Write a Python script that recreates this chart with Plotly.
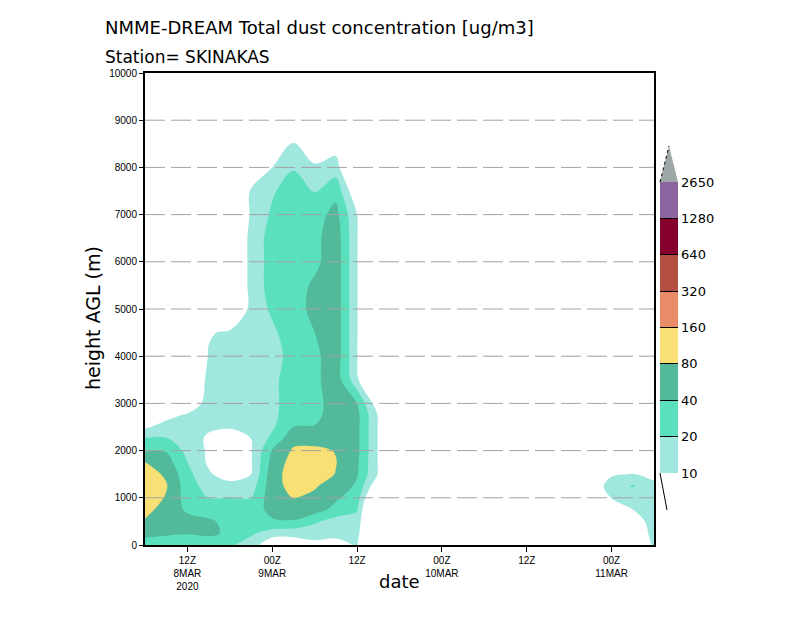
import numpy as np
import pandas as pd
import plotly.graph_objects as go

# ---------------- data ----------------
heights = [0, 250, 500, 750, 1000, 1250, 1500, 1750, 2000, 2250, 2500, 2750, 3000,
           3500, 4000, 4500, 5000, 5500, 6000, 6500, 7000, 7500, 8000, 8500, 9000, 10000]

# 3-hourly profiles, 06Z 08MAR2020 ... 06Z 11MAR2020 (ug/m3), one list per time, bottom->top
dust_profiles = [
    [28, 50, 75, 100, 130, 130, 110, 82, 38, 21, 9, 4, 0, 0, 0, 0, 0, 0, 0, 0, 0, 0, 0, 0, 0, 0],       # 06Z 8
    [26, 45, 50, 60, 75, 85, 72, 55, 38, 21, 13, 8, 3, 0, 0, 0, 0, 0, 0, 0, 0, 0, 0, 0, 0, 0],          # 09Z
    [25, 42, 50, 36, 30, 28, 25, 20, 16, 14, 13, 11, 6, 2, 0, 0, 0, 0, 0, 0, 0, 0, 0, 0, 0, 0],         # 12Z
    [24, 48, 45, 28, 20, 15, 11, 9, 9, 9, 11, 13, 13, 14, 11, 9, 0, 0, 0, 0, 0, 0, 0, 0, 0, 0],         # 15Z
    [22, 34, 32, 25, 20, 13, 7, 4, 4, 6, 11, 13, 14, 14, 13, 12, 2, 2, 2, 2, 1, 0, 0, 0, 0, 0],         # 18Z
    [15, 22, 25, 24, 20, 14, 10, 9.5, 9.5, 10, 13, 14, 14, 14, 14, 14, 14, 14, 14, 14, 12, 12, 0, 0, 0, 0],  # 21Z
    [5, 15, 35, 55, 60, 62, 60, 52, 42, 24, 18, 17, 17, 18, 16, 18, 22, 25, 25, 25, 22, 18.5, 10, 2, 0, 0],  # 00Z 9
    [6, 13, 38, 60, 82, 100, 110, 105, 88, 65, 40, 30, 28, 25, 25, 27, 30, 30, 30, 30, 30, 27, 19, 10.5, 2, 0],  # 03Z
    [8, 14, 22, 55, 70, 85, 110, 110, 90, 65, 42, 32, 30, 34, 34, 40, 48, 45, 34, 33, 30, 19, 12, 4, 0, 0],  # 06Z
    [8, 12, 15, 32, 45, 60, 78, 82, 78, 62, 60, 60, 60, 60, 60, 60, 60, 60, 60, 60, 50, 32, 14, 7, 0, 0],    # 09Z
    [10.5, 13, 16, 21, 28, 36, 42, 45, 48, 48, 48, 48, 40, 12, 10.5, 10.5, 10.5, 10.5, 10.5, 10.5, 10, 5, 2, 0, 0, 0],  # 12Z
    [0, 0, 0, 0, 2, 5, 9.5, 9.5, 9.5, 9.5, 9.5, 9.5, 6, 0, 0, 0, 0, 0, 0, 0, 0, 0, 0, 0, 0, 0],         # 15Z
    [0, 0, 0, 0, 0, 0, 0, 0, 0, 0, 0, 0, 0, 0, 0, 0, 0, 0, 0, 0, 0, 0, 0, 0, 0, 0],                     # 18Z
    [0, 0, 0, 0, 0, 0, 0, 0, 0, 0, 0, 0, 0, 0, 0, 0, 0, 0, 0, 0, 0, 0, 0, 0, 0, 0],                     # 21Z
    [0, 0, 0, 0, 0, 0, 0, 0, 0, 0, 0, 0, 0, 0, 0, 0, 0, 0, 0, 0, 0, 0, 0, 0, 0, 0],                     # 00Z 10
    [0, 0, 0, 0, 0, 0, 0, 0, 0, 0, 0, 0, 0, 0, 0, 0, 0, 0, 0, 0, 0, 0, 0, 0, 0, 0],                     # 03Z
    [0, 0, 0, 0, 0, 0, 0, 0, 0, 0, 0, 0, 0, 0, 0, 0, 0, 0, 0, 0, 0, 0, 0, 0, 0, 0],                     # 06Z
    [0, 0, 0, 0, 0, 0, 0, 0, 0, 0, 0, 0, 0, 0, 0, 0, 0, 0, 0, 0, 0, 0, 0, 0, 0, 0],                     # 09Z
    [0, 0, 0, 0, 0, 0, 0, 0, 0, 0, 0, 0, 0, 0, 0, 0, 0, 0, 0, 0, 0, 0, 0, 0, 0, 0],                     # 12Z
    [0, 0, 0, 0, 0, 0, 0, 0, 0, 0, 0, 0, 0, 0, 0, 0, 0, 0, 0, 0, 0, 0, 0, 0, 0, 0],                     # 15Z
    [0, 0, 0, 0, 0, 0, 0, 0, 0, 0, 0, 0, 0, 0, 0, 0, 0, 0, 0, 0, 0, 0, 0, 0, 0, 0],                     # 18Z
    [0, 0, 0, 0, 2, 5, 2, 0, 0, 0, 0, 0, 0, 0, 0, 0, 0, 0, 0, 0, 0, 0, 0, 0, 0, 0],                     # 21Z
    [0, 0, 0, 4, 10.5, 15, 9, 0, 0, 0, 0, 0, 0, 0, 0, 0, 0, 0, 0, 0, 0, 0, 0, 0, 0, 0],                 # 00Z 11
    [3, 5, 7, 10, 14, 21, 10.5, 3, 0, 0, 0, 0, 0, 0, 0, 0, 0, 0, 0, 0, 0, 0, 0, 0, 0, 0],               # 03Z
    [12, 13, 13, 13, 13, 12, 8, 2, 0, 0, 0, 0, 0, 0, 0, 0, 0, 0, 0, 0, 0, 0, 0, 0, 0, 0],               # 06Z
]
times = pd.date_range("2020-03-08 06:00", "2020-03-11 06:00", freq="3h")

level_labels = ["10", "20", "40", "80", "160", "320", "640", "1280", "2650"]
level_colors = ["#a0e8df", "#5ae0bd", "#52b99b", "#f9e074", "#ea8b68",
                "#b24f41", "#85002c", "#8b64a0"]
over_color = "#9fa8a8"

x_tick_vals = ["2020-03-08 12:00", "2020-03-09 00:00", "2020-03-09 12:00",
               "2020-03-10 00:00", "2020-03-10 12:00", "2020-03-11 00:00"]
x_tick_text = ["12Z<br>8MAR<br>2020", "00Z<br>9MAR", "12Z", "00Z<br>10MAR", "12Z", "00Z<br>11MAR"]
y_tick_vals = [0, 1000, 2000, 3000, 4000, 5000, 6000, 7000, 8000, 9000, 10000]
y_tick_text = ["0", "1000", "2000", "3000", "4000", "5000", "6000", "7000", "8000", "9000", "10000"]

# ---------------- figure ----------------
conc = np.array(dust_profiles, dtype=float).T           # heights x times
lev = np.log2(np.maximum(conc, 1.0) / 10.0)            # 0 -> 10, 1 -> 20, ...

# contour colour scale: background (white) + 8 bands + above-top
fill_cols = ["#ffffff"] + level_colors + [over_color]
n = len(fill_cols)
cs_contour = []
for k, c in enumerate(fill_cols):
    lo = max(0.0, (k - 0.5) / (n - 1))
    hi = min(1.0, (k + 0.5) / (n - 1))
    cs_contour += [[lo, c], [hi, c]]

cs_bar = []
for k, c in enumerate(level_colors):
    cs_bar += [[k / len(level_colors), c], [(k + 1) / len(level_colors), c]]

fig = go.Figure()
fig.add_trace(go.Contour(
    x=times, y=heights, z=lev,
    autocontour=False,
    contours=dict(start=0, end=8, size=1, coloring="fill", showlines=False),
    colorscale=cs_contour, showscale=False,
    line=dict(width=0, smoothing=1.0),
    hoverinfo="skip",
))

# colour key
fig.add_trace(go.Scatter(
    x=[pd.Timestamp("2020-03-01")], y=[-5000], mode="markers",
    marker=dict(color=[0], cmin=0, cmax=8, colorscale=cs_bar, showscale=True,
                colorbar=dict(
                    x=(660 - 145) / 509, xanchor="left", xpad=0,
                    y=(545 - 327.5) / 472, yanchor="middle", ypad=0,
                    thickness=18, thicknessmode="pixels",
                    len=291, lenmode="pixels",
                    outlinewidth=0,
                    tickmode="array", tickvals=list(range(9)), ticktext=level_labels,
                    ticks="inside", ticklen=18, tickwidth=1, tickcolor="black",
                    tickfont=dict(family="DejaVu Sans", size=13, color="black"),
                )),
    showlegend=False, hoverinfo="skip",
))

def px_x(p):
    return (p - 145) / 509

def px_y(p):
    return (545 - p) / 472

shapes = []
for v in y_tick_vals[1:-1]:
    shapes.append(dict(type="line", xref="paper", x0=0, x1=1, yref="y", y0=v, y1=v,
                       line=dict(color="#a3a3a3", width=1, dash="20px,6px"), layer="above"))
# colour-key end triangles
shapes.append(dict(type="path", xref="paper", yref="paper",
                   path=f"M {px_x(660)} {px_y(182)} L {px_x(678)} {px_y(182)} L {px_x(669)} {px_y(146)} Z",
                   fillcolor=over_color, line=dict(width=0)))
shapes.append(dict(type="line", xref="paper", yref="paper",
                   x0=px_x(660), y0=px_y(182), x1=px_x(669), y1=px_y(146),
                   line=dict(color="black", width=1, dash="dot")))
shapes.append(dict(type="line", xref="paper", yref="paper",
                   x0=px_x(660), y0=px_y(473), x1=px_x(667), y1=px_y(510),
                   line=dict(color="black", width=1)))

annotations = [
    dict(text="NMME-DREAM Total dust concentration [ug/m3]", xref="paper", yref="paper",
         x=px_x(103), y=px_y(28), xanchor="left", yanchor="middle", showarrow=False,
         font=dict(family="DejaVu Sans", size=18, color="black")),
    dict(text="Station= SKINAKAS", xref="paper", yref="paper",
         x=px_x(103), y=px_y(57), xanchor="left", yanchor="middle", showarrow=False,
         font=dict(family="DejaVu Sans", size=17, color="black")),
    dict(text="height AGL (m)", xref="paper", yref="paper", textangle=-90,
         x=px_x(93), y=px_y(318), xanchor="center", yanchor="middle", showarrow=False,
         font=dict(family="DejaVu Sans", size=19, color="black")),
    dict(text="date", xref="paper", yref="paper",
         x=px_x(399), y=px_y(581), xanchor="center", yanchor="middle", showarrow=False,
         font=dict(family="DejaVu Sans", size=18, color="black")),
]

fig.update_layout(
    width=800, height=618, autosize=False,
    margin=dict(l=145, r=146, t=73, b=73, pad=0),
    paper_bgcolor="white", plot_bgcolor="white",
    showlegend=False,
    shapes=shapes, annotations=annotations,
    xaxis=dict(type="date", range=["2020-03-08 06:00", "2020-03-11 06:00"],
               tickmode="array", tickvals=x_tick_vals, ticktext=x_tick_text,
               ticks="outside", ticklen=5, tickwidth=1, tickcolor="black",
               showgrid=False, zeroline=False,
               showline=True, linecolor="black", linewidth=2, mirror=True,
               tickfont=dict(family="Liberation Sans", size=10, color="black")),
    yaxis=dict(range=[0, 10000], tickmode="array", tickvals=y_tick_vals, ticktext=y_tick_text,
               ticks="outside", ticklen=4, tickwidth=1, tickcolor="black",
               showgrid=False, zeroline=False,
               showline=True, linecolor="black", linewidth=2, mirror=True,
               tickfont=dict(family="Liberation Sans", size=10, color="black")),
)

fig.write_html("out.html")
